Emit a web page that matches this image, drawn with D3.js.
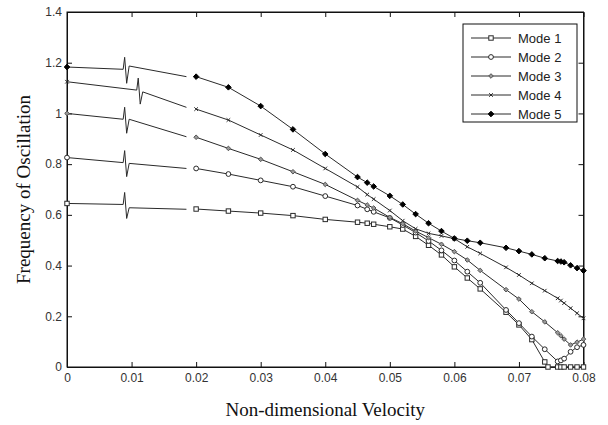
<!DOCTYPE html>
<html>
<head>
<meta charset="utf-8">
<script src="https://cdn.jsdelivr.net/npm/d3@7"></script>
<style>
  body { margin: 0; background: #fff; }
  .tick text { font-family: "Liberation Sans", Arial, sans-serif; font-size: 12px; fill: #333; }
  .axis-label { font-family: "Liberation Serif", "Times New Roman", serif; font-size: 19px; fill: #111; }
  .legend text { font-family: "Liberation Sans", Arial, sans-serif; font-size: 13px; fill: #222; }
</style>
</head>
<body>
<div id="chart"></div>
<script>
const velocity = [0.02, 0.025, 0.03, 0.035, 0.04, 0.045, 0.0465, 0.0475, 0.05, 0.052, 0.054, 0.056, 0.058,
  0.06, 0.062, 0.064, 0.068, 0.07, 0.072, 0.074, 0.076, 0.0765, 0.077, 0.078, 0.079, 0.08];
const velocityMode1 = [0.02, 0.025, 0.03, 0.035, 0.04, 0.045, 0.0465, 0.0475, 0.05, 0.052, 0.054, 0.056, 0.058,
  0.06, 0.062, 0.064, 0.068, 0.07, 0.072, 0.074, 0.0745, 0.076, 0.0765, 0.077, 0.078, 0.079, 0.08];

const mode1 = [0.623, 0.615, 0.607, 0.597, 0.582, 0.571, 0.567, 0.563, 0.553, 0.544, 0.515, 0.48, 0.442,
  0.395, 0.351, 0.308, 0.216, 0.166, 0.108, 0.02, 0, 0, 0, 0, 0, 0, 0];
const mode2 = [0.783, 0.761, 0.736, 0.711, 0.674, 0.637, 0.622, 0.612, 0.588, 0.56, 0.53, 0.497, 0.46,
  0.42, 0.376, 0.332, 0.225, 0.173, 0.12, 0.07, 0.022, 0.026, 0.033, 0.06, 0.078, 0.087];
const mode3 = [0.906, 0.862, 0.819, 0.77, 0.72, 0.657, 0.639, 0.627, 0.59, 0.565, 0.536, 0.51, 0.484,
  0.455, 0.422, 0.381, 0.305, 0.268, 0.218, 0.178, 0.135, 0.123, 0.11, 0.087, 0.098, 0.11];
const mode4 = [1.017, 0.974, 0.915, 0.856, 0.783, 0.71, 0.68, 0.662, 0.617, 0.577, 0.545, 0.527, 0.517,
  0.506, 0.474, 0.448, 0.393, 0.363, 0.33, 0.301, 0.271, 0.262, 0.252, 0.232, 0.212, 0.192];
const mode5 = [1.145, 1.103, 1.029, 0.937, 0.84, 0.749, 0.727, 0.712, 0.675, 0.641, 0.603, 0.567, 0.536,
  0.507, 0.498, 0.49, 0.47, 0.457, 0.444, 0.429, 0.418, 0.416, 0.413, 0.401, 0.39, 0.38];

const modeNames = ["Mode 1", "Mode 2", "Mode 3", "Mode 4", "Mode 5"];

// hand drawn part of each curve left of the axis break
const startValue = [0.645, 0.826, 1.0, 1.125, 1.183];
const beforeBreak = [0.641, 0.806, 0.977, 1.092, 1.174];
const afterBreak = [0.628, 0.803, 0.977, 1.085, 1.187];
const breakAt = [0.0087, 0.0087, 0.0087, 0.0108, 0.0087];
const segmentEnd = [0.622, 0.783, 0.908, 1.024, 1.145];
const segmentEndAt = 0.0185;

const xTicks = [0, 0.01, 0.02, 0.03, 0.04, 0.05, 0.06, 0.07, 0.08];
const yTicks = [0, 0.2, 0.4, 0.6, 0.8, 1, 1.2, 1.4];

const W = 608, H = 425;
const margin = { top: 12, right: 24.5, bottom: 58, left: 67 };

const svg = d3.select("#chart").append("svg")
  .attr("width", W)
  .attr("height", H);

const x = d3.scaleLinear().domain([0, 0.08]).range([margin.left, W - margin.right]);
const y = d3.scaleLinear().domain([0, 1.4]).range([H - margin.bottom, margin.top]);

const ink = "#2a2a2a";

// axes, MATLAB style: ticks inside on all four sides
const fmt = d3.format("~g");
svg.append("g").attr("transform", `translate(0,${y(0)})`)
  .call(d3.axisBottom(x).tickValues(xTicks).tickFormat(fmt).tickSizeInner(-5).tickSizeOuter(0).tickPadding(6));
svg.append("g").attr("transform", `translate(0,${y(1.4)})`)
  .call(d3.axisTop(x).tickValues(xTicks).tickFormat("").tickSizeInner(-5).tickSizeOuter(0));
svg.append("g").attr("transform", `translate(${x(0)},0)`)
  .call(d3.axisLeft(y).tickValues(yTicks).tickFormat(fmt).tickSizeInner(-5).tickSizeOuter(0).tickPadding(5));
svg.append("g").attr("transform", `translate(${x(0.08)},0)`)
  .call(d3.axisRight(y).tickValues(yTicks).tickFormat("").tickSizeInner(-5).tickSizeOuter(0));
svg.selectAll(".domain, .tick line").attr("stroke", "#111");

svg.append("rect")
  .attr("x", x(0)).attr("y", y(1.4))
  .attr("width", x(0.08) - x(0)).attr("height", y(0) - y(1.4))
  .attr("fill", "none").attr("stroke", "#111");

svg.append("text")
  .attr("class", "axis-label")
  .attr("x", (x(0) + x(0.08)) / 2)
  .attr("y", 416)
  .attr("text-anchor", "middle")
  .text("Non-dimensional Velocity");

svg.append("text")
  .attr("class", "axis-label")
  .attr("transform", "rotate(-90)")
  .attr("x", -(y(0) + y(1.4)) / 2)
  .attr("y", 30)
  .attr("text-anchor", "middle")
  .text("Frequency of Oscillation");

// markers
function drawMarker(g, i) {
  if (i === 0) {
    g.append("rect").attr("x", -2.2).attr("y", -2.2).attr("width", 4.4).attr("height", 4.4)
      .attr("fill", "#fff").attr("stroke", ink);
  } else if (i === 1) {
    g.append("circle").attr("r", 2.4).attr("fill", "#fff").attr("stroke", ink);
  } else if (i === 2) {
    g.append("path").attr("d", "M0,-2.3L2.3,0L0,2.3L-2.3,0Z").attr("fill", "#999").attr("stroke", "#555");
  } else if (i === 3) {
    g.append("path").attr("d", "M-1.8,-1.8L1.8,1.8M-1.8,1.8L1.8,-1.8").attr("stroke", ink).attr("stroke-width", 1);
  } else {
    g.append("path").attr("d", "M0,-2.8L2.8,0L0,2.8L-2.8,0Z").attr("fill", "#000").attr("stroke", "#000");
  }
}

const series = [
  { xs: velocityMode1, ys: mode1 },
  { xs: velocity, ys: mode2 },
  { xs: velocity, ys: mode3 },
  { xs: velocity, ys: mode4 },
  { xs: velocity, ys: mode5 }
];

const line = d3.line().x(d => x(d[0])).y(d => y(d[1]));

series.forEach((s, i) => {
  const pts = s.xs.map((v, j) => [v, s.ys[j]]);

  // broken-axis segment with the zigzag break mark
  const bx = x(breakAt[i]), by = y(beforeBreak[i]);
  const leftPath = [
    [x(0), y(startValue[i])],
    [bx, by],
    [bx + 1.5, by - 12],
    [bx + 3.5, by + 14],
    [bx + 6, y(afterBreak[i])],
    [x(segmentEndAt), y(segmentEnd[i])]
  ];
  svg.append("path")
    .attr("d", d3.line()(leftPath))
    .attr("fill", "none").attr("stroke", ink).attr("stroke-width", 1);
  drawMarker(svg.append("g").attr("transform", `translate(${x(0)},${y(startValue[i])})`), i);

  svg.append("path")
    .datum(pts)
    .attr("d", line)
    .attr("fill", "none").attr("stroke", ink).attr("stroke-width", 1);

  pts.forEach(p => {
    drawMarker(svg.append("g").attr("transform", `translate(${x(p[0])},${y(p[1])})`), i);
  });
});

// legend
const legend = svg.append("g").attr("class", "legend").attr("transform", "translate(463,24)");
legend.append("rect").attr("width", 114).attr("height", 98)
  .attr("fill", "#fff").attr("stroke", "#111");
modeNames.forEach((name, i) => {
  const row = legend.append("g").attr("transform", `translate(0,${14 + i * 19})`);
  row.append("line").attr("x1", 8).attr("x2", 48).attr("stroke", ink);
  drawMarker(row.append("g").attr("transform", "translate(28,0)"), i);
  row.append("text").attr("x", 55).attr("dy", "0.35em").text(name);
});
</script>
</body>
</html>
